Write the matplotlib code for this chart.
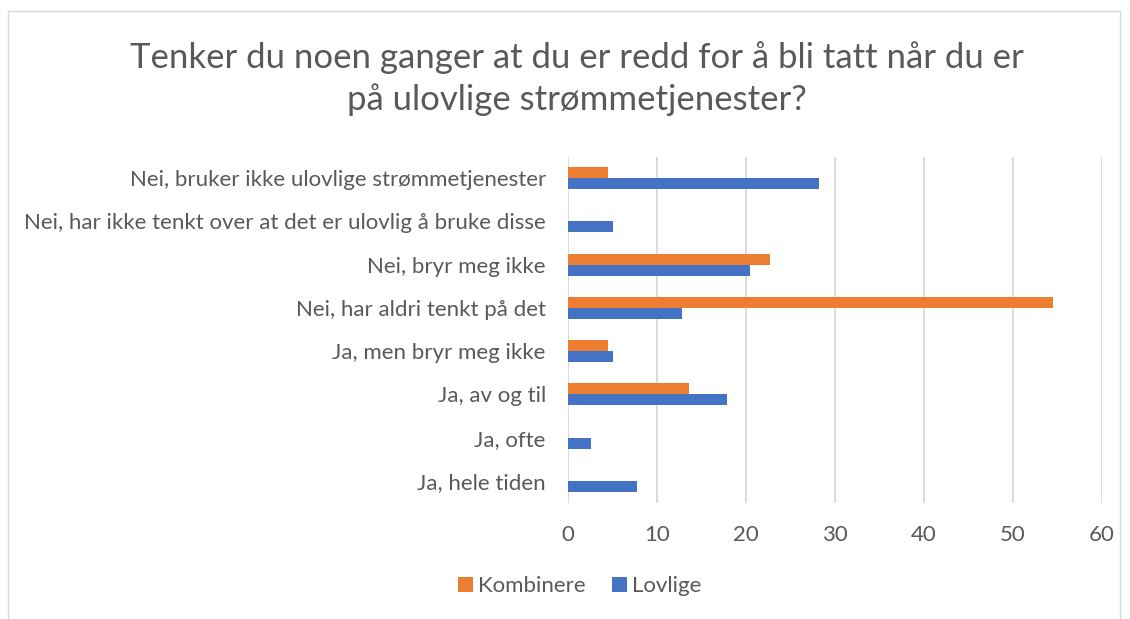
import matplotlib.pyplot as plt
import numpy as np

# categories, bottom to top (Excel order)
categories = [
    "Ja, hele tiden",
    "Ja, ofte",
    "Ja, av og til",
    "Ja, men bryr meg ikke",
    "Nei, har aldri tenkt på det",
    "Nei, bryr meg ikke",
    "Nei, har ikke tenkt over at det er ulovlig å bruke disse",
    "Nei, bruker ikke ulovlige strømmetjenester",
]
kombinere = [0, 0, 13.6, 4.5, 54.5, 22.7, 0, 4.5]
lovlige = [7.7, 2.6, 17.9, 5.1, 12.8, 20.5, 5.1, 28.2]
xticks = [0, 10, 20, 30, 40, 50, 60]

title_lines = ["Tenker du noen ganger at du er redd for å bli tatt når du er",
               "på ulovlige strømmetjenester?"]

plt.rcParams['font.family'] = ['Lato', 'DejaVu Sans']
text_col = '#595959'

W, H = 1130, 619
fig = plt.figure(figsize=(W / 100, H / 100), dpi=100)

# outer chart border
border = fig.add_axes([0, 0, 1, 1])
border.set_xlim(0, W)
border.set_ylim(H, 0)
border.axis('off')
border.plot([8, 8, 1120, 1120], [H, 11, 11, H], color='#d9d9d9', lw=1)

left, right, top, bottom = 568, 1102, 156.5, 502.5
ax = fig.add_axes([left / W, 1 - bottom / H, (right - left) / W, (bottom - top) / H])

y = np.arange(len(categories))
h = 0.255
ax.barh(y + h / 2, kombinere, height=h, color='#ED7D31', label='Kombinere', zorder=3)
ax.barh(y - h / 2, lovlige, height=h, color='#4472C4', label='Lovlige', zorder=3)

ax.set_xlim(0, 60)
ax.set_ylim(-0.5, len(categories) - 0.5)
ax.set_xticks(xticks)
ax.set_yticks(y)
ax.set_yticklabels(categories)
ax.grid(axis='x', color='#d9d9d9', lw=1.3, zorder=0)
for s in ax.spines.values():
    s.set_visible(False)
ax.axvline(0, color='#d9d9d9', lw=1.3, zorder=1)
ax.tick_params(axis='both', length=0, labelsize=16, labelcolor=text_col)
ax.tick_params(axis='x', pad=16)
ax.tick_params(axis='y', pad=16)

# title, two lines
for line, ty in zip(title_lines, [58, 100]):
    fig.text(577 / W, 1 - ty / H, line, ha='center', va='center', fontsize=25,
             color=text_col)

handles, labels = ax.get_legend_handles_labels()
fig.legend(handles, labels, loc='center', bbox_to_anchor=(580 / W, 1 - 586 / H),
           ncol=2, frameon=False, fontsize=16, labelcolor=text_col,
           handlelength=0.65, handleheight=0.65, handletextpad=0.25, columnspacing=1.2)

fig.savefig('out.png', dpi=100)
